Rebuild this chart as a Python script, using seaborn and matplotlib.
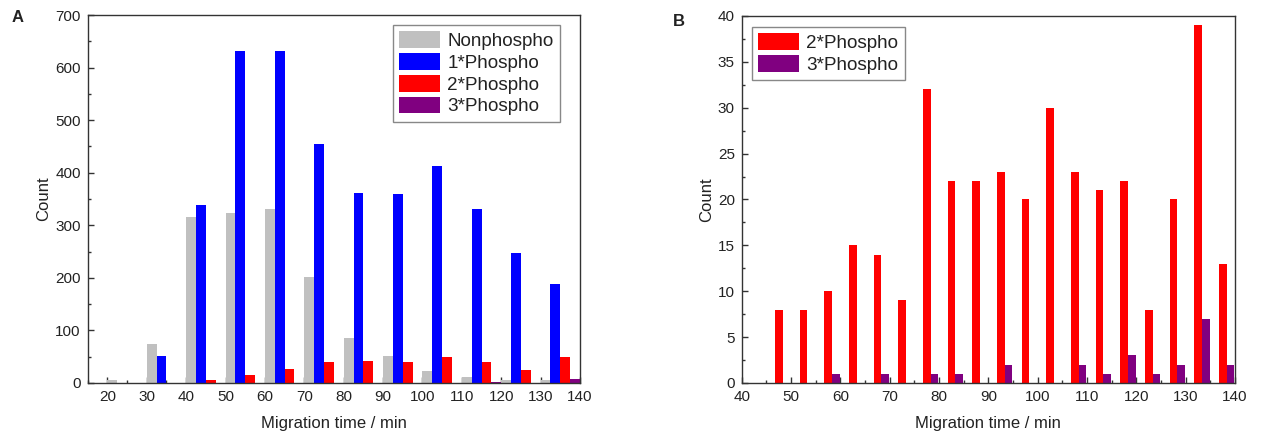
import numpy as np
import pandas as pd
import matplotlib
matplotlib.use("Agg")
import matplotlib.pyplot as plt
from matplotlib.patches import Patch
from matplotlib.ticker import MultipleLocator
import seaborn as sns

# ---------------- data ----------------
# Panel A: 10-min bins (bin centres, min)
time_a = [25, 35, 45, 55, 65, 75, 85, 95, 105, 115, 125, 135]
nonphospho = [5, 74, 315, 323, 331, 201, 86, 51, 22, 11, 6, 6]
phospho1 = [0, 52, 339, 632, 632, 455, 361, 359, 412, 331, 247, 189]
phospho2_a = [0, 0, 5, 15, 26, 39, 41, 40, 50, 40, 25, 49]
phospho3_a = [0, 0, 0, 0, 0, 0, 0, 0, 0, 1.5, 0, 7]

# Panel B: 5-min bins (bin centres, min)
time_b = [47.5, 52.5, 57.5, 62.5, 67.5, 72.5, 77.5, 82.5, 87.5, 92.5,
          97.5, 102.5, 107.5, 112.5, 117.5, 122.5, 127.5, 132.5, 137.5]
phospho2_b = [8, 8, 10, 15, 14, 9, 32, 22, 22, 23, 20, 30, 23, 21, 22, 8, 20, 39, 13]
phospho3_b = [0, 0, 1, 0, 1, 0, 1, 1, 0, 2, 0, 0, 2, 1, 3, 1, 2, 7, 2]

labels_a = ["Nonphospho", "1*Phospho", "2*Phospho", "3*Phospho"]
labels_b = ["2*Phospho", "3*Phospho"]
colors = {"Nonphospho": "#C0C0C0", "1*Phospho": "#0000FF",
          "2*Phospho": "#FF0000", "3*Phospho": "#800080"}

# ---------------- style ----------------
sns.set_style("ticks")
plt.rcParams["font.family"] = ["Liberation Sans", "DejaVu Sans"]
plt.rcParams["axes.edgecolor"] = "#333333"
plt.rcParams["axes.linewidth"] = 1.0
plt.rcParams["text.color"] = "#222222"
plt.rcParams["axes.labelcolor"] = "#222222"
plt.rcParams["xtick.color"] = "#333333"
plt.rcParams["ytick.color"] = "#333333"
plt.rcParams["xtick.labelcolor"] = "#222222"
plt.rcParams["ytick.labelcolor"] = "#222222"

df_a = pd.DataFrame({
    "time": np.tile(time_a, 4),
    "count": nonphospho + phospho1 + phospho2_a + phospho3_a,
    "type": np.repeat(labels_a, len(time_a)),
})
df_b = pd.DataFrame({
    "time": np.tile(time_b, 2),
    "count": phospho2_b + phospho3_b,
    "type": np.repeat(labels_b, len(time_b)),
})

fig = plt.figure(figsize=(12.66, 4.38), dpi=100)
ax1 = fig.add_axes([0.0693, 0.1256, 0.3888, 0.8400])
ax2 = fig.add_axes([0.5859, 0.1256, 0.3897, 0.8380])

# Panel A
sns.barplot(data=df_a, x="time", y="count", hue="type", hue_order=labels_a,
            palette=colors, native_scale=True, dodge=True, width=1.0,
            saturation=1, errorbar=None, linewidth=0, legend=False, ax=ax1)

# Panel B: red bar centred on the bin, purple bar right next to it
bar_w = 1.55
df_b["xpos"] = df_b["time"] + bar_w / 2
sns.barplot(data=df_b, x="xpos", y="count", hue="type", hue_order=labels_b,
            palette=colors, native_scale=True, dodge=True, width=2 * bar_w / 5,
            saturation=1, errorbar=None, linewidth=0, legend=False, ax=ax2)

for ax, xlim, ylim, ymaj, ymin in [(ax1, (15, 140), (0, 700), 100, 50),
                                   (ax2, (40, 140), (0, 40), 5, 2.5)]:
    ax.set_xlim(*xlim)
    ax.set_ylim(*ylim)
    ax.xaxis.set_major_locator(MultipleLocator(10))
    ax.xaxis.set_minor_locator(MultipleLocator(5))
    ax.yaxis.set_major_locator(MultipleLocator(ymaj))
    ax.yaxis.set_minor_locator(MultipleLocator(ymin))
    ax.tick_params(which="both", direction="in", top=False, right=False)
    ax.tick_params(which="major", length=4, width=1, labelsize=11, pad=5)
    ax.tick_params(which="minor", length=2.5, width=1)
    for s in ax.spines.values():
        s.set_visible(True)
    ax.set_xlabel("Migration time / min", fontsize=12, labelpad=9)
    ax.set_ylabel("Count", fontsize=12, labelpad=3)

leg_kw = dict(fontsize=13.6, handlelength=2.15, handleheight=1.0, handletextpad=0.4,
              labelspacing=0.15, borderpad=0.33, borderaxespad=0, frameon=True,
              fancybox=False, framealpha=1, edgecolor="#888888")
h_a = [Patch(facecolor=colors[l], edgecolor="none") for l in labels_a]
lg1 = ax1.legend(h_a, labels_a, loc="upper right",
                 bbox_to_anchor=(0.9594, 0.9728), **leg_kw)
h_b = [Patch(facecolor=colors[l], edgecolor="none") for l in labels_b]
lg2 = ax2.legend(h_b, labels_b, loc="upper left",
                 bbox_to_anchor=(0.0209, 0.970), **leg_kw)
for lg in (lg1, lg2):
    lg.get_frame().set_linewidth(1.0)

fig.text(12 / 1266, 1 - 17 / 438, "A", fontsize=12, fontweight="bold",
         ha="left", va="center")
fig.text(673 / 1266, 1 - 21 / 438, "B", fontsize=12, fontweight="bold",
         ha="left", va="center")

fig.savefig("out.png", dpi=100)
